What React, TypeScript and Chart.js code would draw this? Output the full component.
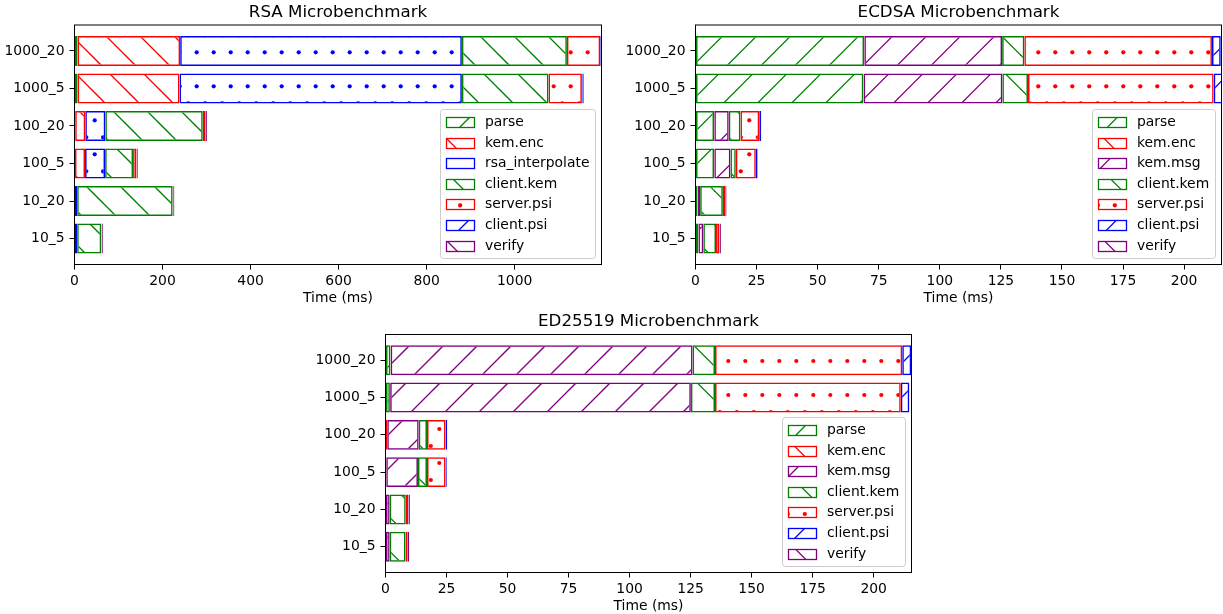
import React, { useEffect, useRef } from 'react';
import { Chart, registerables } from 'chart.js';

Chart.register(...registerables);

const FONT = "'DejaVu Sans', sans-serif";
const X_LABEL = 'Time (ms)';

// categories from bottom to top
const CATEGORIES = ['10_5', '10_20', '100_5', '100_20', '1000_5', '1000_20'];

const RSA_TICKS = [0, 200, 400, 600, 800, 1000];
const MS_TICKS = [0, 25, 50, 75, 100, 125, 150, 175, 200];

// RSA
const RSA_PARSE = [0.5, 0.5, 1, 1.5, 7, 7];
const RSA_KEM_ENC = [0.5, 0.5, 23, 23, 231.6, 233];
const RSA_INTERPOLATE = [5, 5, 45.5, 45.5, 641.4, 640];
const RSA_CLIENT_KEM = [54.8, 217, 63.6, 221.4, 196.8, 238.6];
const RSA_SERVER_PSI = [0.8, 1, 7.8, 6.5, 75.9, 75.7];
const RSA_CLIENT_PSI = [0.3, 0.3, 0.4, 0.4, 1.7, 1.5];
const RSA_VERIFY = [2.5, 2.5, 2.5, 2.5, 2.5, 1.4];

// ECDSA
const EC_PARSE = [1.1, 0.8, 7.6, 7.6, 68.7, 69.0];
const EC_KEM_ENC = [0.1, 0.1, 0.1, 0.1, 0.1, 0.1];
const EC_KEM_MSG = [2.0, 1.0, 6.6, 5.9, 56.8, 56.4];
const EC_CLIENT_KEM = [5.2, 9.3, 2.2, 4.8, 10.5, 9.1];
const EC_SERVER_PSI = [1.4, 0.9, 8.2, 7.7, 76.0, 76.8];
const EC_CLIENT_PSI = [0.1, 0.1, 0.7, 0.7, 4.0, 3.6];
const EC_VERIFY = [0.5, 0.5, 0.1, 0.1, 0.3, 0.3];

// ED25519
const ED_PARSE = [0.1, 0.1, 0.1, 0.1, 1.8, 2.0];
const ED_KEM_ENC = [0.1, 0.1, 0.2, 0.6, 0.1, 0.1];
const ED_KEM_MSG = [1.5, 1.5, 13.0, 12.9, 123.2, 123.7];
const ED_CLIENT_KEM = [6.5, 6.6, 3.7, 3.4, 9.9, 9.2];
const ED_SERVER_PSI = [0.8, 1.0, 7.6, 7.6, 76.1, 76.7];
const ED_CLIENT_PSI = [0.2, 0.1, 0.5, 0.6, 3.5, 3.7];
const ED_VERIFY = [0.5, 0.6, 0.1, 0.1, 0.1, 0.1];

const GREEN = '#008000';
const RED = '#ff0000';
const BLUE = '#0000ff';
const PURPLE = '#800080';

type Hatch = '/' | '\\' | '.';
interface Series { label: string; values: number[]; color: string; hatch: Hatch }
interface Phase { slash: number; back: number; dotX: number; dotY: number }
interface Panel {
  title: string;
  series: Series[];
  ticks: number[];
  canvas: [number, number, number, number];
  area: [number, number, number, number];
  phase: Phase;
}

const PANELS: Panel[] = [
  {
    title: 'RSA Microbenchmark',
    ticks: RSA_TICKS,
    canvas: [0, 0, 612, 310],
    area: [74.5, 25, 601.5, 264.5],
    phase: { slash: 9, back: 2, dotX: 9.7, dotY: 18.3 },
    series: [
      { label: 'parse', values: RSA_PARSE, color: GREEN, hatch: '/' },
      { label: 'kem.enc', values: RSA_KEM_ENC, color: RED, hatch: '\\' },
      { label: 'rsa_interpolate', values: RSA_INTERPOLATE, color: BLUE, hatch: '.' },
      { label: 'client.kem', values: RSA_CLIENT_KEM, color: GREEN, hatch: '\\' },
      { label: 'server.psi', values: RSA_SERVER_PSI, color: RED, hatch: '.' },
      { label: 'client.psi', values: RSA_CLIENT_PSI, color: BLUE, hatch: '/' },
      { label: 'verify', values: RSA_VERIFY, color: PURPLE, hatch: '\\' },
    ],
  },
  {
    title: 'ECDSA Microbenchmark',
    ticks: MS_TICKS,
    canvas: [612, 0, 611, 310],
    area: [695.5, 25, 1221.5, 264.5],
    phase: { slash: 10.7, back: 13.6, dotX: 1.3, dotY: 18.3 },
    series: [
      { label: 'parse', values: EC_PARSE, color: GREEN, hatch: '/' },
      { label: 'kem.enc', values: EC_KEM_ENC, color: RED, hatch: '\\' },
      { label: 'kem.msg', values: EC_KEM_MSG, color: PURPLE, hatch: '/' },
      { label: 'client.kem', values: EC_CLIENT_KEM, color: GREEN, hatch: '\\' },
      { label: 'server.psi', values: EC_SERVER_PSI, color: RED, hatch: '.' },
      { label: 'client.psi', values: EC_CLIENT_PSI, color: BLUE, hatch: '/' },
      { label: 'verify', values: EC_VERIFY, color: PURPLE, hatch: '\\' },
    ],
  },
  {
    title: 'ED25519 Microbenchmark',
    ticks: MS_TICKS,
    canvas: [300, 310, 620, 304],
    area: [385.5, 334.5, 911.5, 572.5],
    phase: { slash: 7, back: 8.3, dotX: 14.3, dotY: 21 },
    series: [
      { label: 'parse', values: ED_PARSE, color: GREEN, hatch: '/' },
      { label: 'kem.enc', values: ED_KEM_ENC, color: RED, hatch: '\\' },
      { label: 'kem.msg', values: ED_KEM_MSG, color: PURPLE, hatch: '/' },
      { label: 'client.kem', values: ED_CLIENT_KEM, color: GREEN, hatch: '\\' },
      { label: 'server.psi', values: ED_SERVER_PSI, color: RED, hatch: '.' },
      { label: 'client.psi', values: ED_CLIENT_PSI, color: BLUE, hatch: '/' },
      { label: 'verify', values: ED_VERIFY, color: PURPLE, hatch: '\\' },
    ],
  },
];

const mod = (a: number, m: number) => ((a % m) + m) % m;

function makePattern(ctx: CanvasRenderingContext2D, hatch: Hatch, color: string, ph: Phase, ox: number, oy: number): CanvasPattern {
  const LINE = 34;
  const DOT = 17;
  const tile = document.createElement('canvas');
  const w = hatch === '.' ? DOT : LINE;
  const h = LINE;
  tile.width = w;
  tile.height = h;
  const g = tile.getContext('2d')!;
  g.strokeStyle = color;
  g.fillStyle = color;
  g.lineWidth = 1.3;
  if (hatch === '\\') {
    const c = mod(ph.back, LINE);
    for (let k = -2; k <= 2; k++) {
      const x0 = c + k * LINE;
      g.beginPath();
      g.moveTo(x0 - 4, -4);
      g.lineTo(x0 + LINE + 4, LINE + 4);
      g.stroke();
    }
  } else if (hatch === '/') {
    const c = mod(ph.slash, LINE);
    for (let k = -2; k <= 2; k++) {
      const x0 = c + k * LINE;
      g.beginPath();
      g.moveTo(x0 + 4, -4);
      g.lineTo(x0 - LINE - 4, LINE + 4);
      g.stroke();
    }
  } else {
    const pts = [
      [mod(ph.dotX, DOT), mod(ph.dotY, LINE)],
      [mod(ph.dotX + DOT / 2, DOT), mod(ph.dotY + LINE / 2, LINE)],
    ];
    for (const [px, py] of pts) {
      for (let i = -1; i <= 1; i++) {
        for (let j = -1; j <= 1; j++) {
          g.beginPath();
          g.arc(px + i * DOT, py + j * LINE, 2.1, 0, Math.PI * 2);
          g.fill();
        }
      }
    }
  }
  const p = ctx.createPattern(tile, 'repeat')!;
  p.setTransform(new DOMMatrix([1, 0, 0, 1, -ox, -oy]));
  return p;
}

function drawLegend(ctx: CanvasRenderingContext2D, area: any, series: Series[], patterns: CanvasPattern[]) {
  const fs = 13.9;
  ctx.save();
  ctx.font = `${fs}px ${FONT}`;
  const maxW = Math.max(...series.map((s) => ctx.measureText(s.label).width));
  const pad = 0.4 * fs;
  const handleW = 2 * fs;
  const handleH = 0.7 * fs;
  const gap = 0.8 * fs;
  const rowH = 13.66;
  const spacing = 0.5 * fs;
  const n = series.length;
  const w = pad * 2 + handleW + gap + maxW;
  const h = pad * 2 + n * rowH + (n - 1) * spacing;
  const right = area.right - 0.5 * fs;
  const bottom = area.bottom - 0.5 * fs;
  const left = Math.round(right - w) + 0.5;
  const top = Math.round(bottom - h) + 0.5;
  const rr = Math.round(right) + 0.5;
  const bb = Math.round(bottom) + 0.5;
  const r = 0.2 * fs;
  ctx.beginPath();
  ctx.moveTo(left + r, top);
  ctx.lineTo(rr - r, top);
  ctx.quadraticCurveTo(rr, top, rr, top + r);
  ctx.lineTo(rr, bb - r);
  ctx.quadraticCurveTo(rr, bb, rr - r, bb);
  ctx.lineTo(left + r, bb);
  ctx.quadraticCurveTo(left, bb, left, bb - r);
  ctx.lineTo(left, top + r);
  ctx.quadraticCurveTo(left, top, left + r, top);
  ctx.closePath();
  ctx.fillStyle = 'rgba(255,255,255,0.8)';
  ctx.fill();
  ctx.strokeStyle = '#cccccc';
  ctx.lineWidth = 1;
  ctx.stroke();

  series.forEach((s, i) => {
    const cy = top + pad + rowH / 2 + i * (rowH + spacing);
    const px = Math.round(left + pad) + 0.5;
    const py = Math.round(cy - handleH / 2) + 0.5;
    const pw = Math.round(handleW);
    const ph = Math.round(handleH);
    ctx.fillStyle = patterns[i];
    ctx.fillRect(px, py, pw, ph);
    ctx.strokeStyle = s.color;
    ctx.lineWidth = 1.3;
    ctx.strokeRect(px, py, pw, ph);
    ctx.fillStyle = '#000';
    ctx.textAlign = 'left';
    ctx.textBaseline = 'middle';
    ctx.fillText(s.label, left + pad + handleW + gap, cy + 0.5);
  });
  ctx.restore();
}

function PanelChart({ panel }: { panel: Panel }) {
  const ref = useRef<HTMLCanvasElement>(null);
  const [cx, cy, cw, ch] = panel.canvas;

  useEffect(() => {
    const canvas = ref.current;
    if (!canvas) return;
    const ctx = canvas.getContext('2d')!;
    const [al, at, ar, ab] = panel.area;
    const L = al - cx;
    const T = at - cy;
    const R = ar - cx;
    const B = ab - cy;
    const patterns = panel.series.map((s) => makePattern(ctx, s.hatch, s.color, panel.phase, cx, cy));
    const xmax = panel.series.reduce((acc, s) => acc + s.values[s.values.length - 1], 0);

    const decor = {
      id: 'decor',
      afterDraw(chart: any) {
        const c: CanvasRenderingContext2D = chart.ctx;
        const a = chart.chartArea;
        c.save();
        c.strokeStyle = '#000';
        c.lineWidth = 1;
        c.strokeRect(a.left, a.top, a.right - a.left, a.bottom - a.top);
        c.fillStyle = '#000';
        c.font = `16.7px ${FONT}`;
        c.textAlign = 'center';
        c.textBaseline = 'alphabetic';
        c.fillText(panel.title, (a.left + a.right) / 2, a.top - 8.3);
        c.font = `13.9px ${FONT}`;
        c.textBaseline = 'middle';
        c.fillText(X_LABEL, (a.left + a.right) / 2, a.bottom + 33.5);
        c.restore();
        drawLegend(c, a, panel.series, patterns);
      },
    };

    const tickFont = { family: FONT, size: 13.9 };
    const grid = {
      display: true,
      drawOnChartArea: false,
      drawTicks: true,
      offset: false,
      tickLength: 5,
      tickColor: '#000',
      tickWidth: 1,
      color: '#000',
      lineWidth: 1,
    };

    const chart = new Chart(ctx, {
      type: 'bar',
      data: {
        datasets: panel.series.map((s, k) => ({
          label: s.label,
          data: s.values.map((v, i) => ({ x: v, y: i })),
          backgroundColor: patterns[k],
          borderColor: s.color,
          borderWidth: 1.5,
          borderSkipped: false,
          barPercentage: 0.8,
          categoryPercentage: 1,
        })),
      } as any,
      options: {
        indexAxis: 'y',
        animation: false,
        responsive: false,
        devicePixelRatio: 1,
        events: [],
        layout: { padding: { left: 0, top: T, right: cw - R, bottom: 0 } },
        plugins: {
          legend: { display: false },
          tooltip: { enabled: false },
          title: { display: false },
        },
        scales: {
          x: {
            type: 'linear',
            position: 'bottom',
            stacked: true,
            offset: false,
            min: 0,
            max: xmax,
            afterBuildTicks: (s: any) => {
              s.ticks = panel.ticks.map((v) => ({ value: v }));
            },
            afterFit: (s: any) => {
              s.height = ch - B;
            },
            ticks: {
              font: tickFont,
              color: '#000',
              padding: 4,
              autoSkip: false,
              maxRotation: 0,
              minRotation: 0,
              callback: (v: any) => String(v),
            },
            grid,
            border: { display: false },
          },
          y: {
            type: 'linear',
            position: 'left',
            stacked: true,
            offset: false,
            min: -0.69,
            max: 5.69,
            afterBuildTicks: (s: any) => {
              s.ticks = CATEGORIES.map((_, i) => ({ value: i }));
            },
            afterFit: (s: any) => {
              s.width = L;
            },
            ticks: {
              font: tickFont,
              color: '#000',
              padding: 5,
              autoSkip: false,
              callback: (v: any) => CATEGORIES[Math.round(Number(v))] ?? '',
            },
            grid,
            border: { display: false },
          },
        },
      } as any,
      plugins: [decor],
    });
    return () => chart.destroy();
  }, [panel]);

  return (
    <canvas
      ref={ref}
      width={cw}
      height={ch}
      style={{ position: 'absolute', left: cx, top: cy, width: cw, height: ch }}
    />
  );
}

export default function App() {
  return (
    <div style={{ position: 'absolute', left: 0, top: 0, width: 1223, height: 614, background: '#fff', overflow: 'hidden' }}>
      {PANELS.map((p) => (
        <PanelChart key={p.title} panel={p} />
      ))}
    </div>
  );
}
